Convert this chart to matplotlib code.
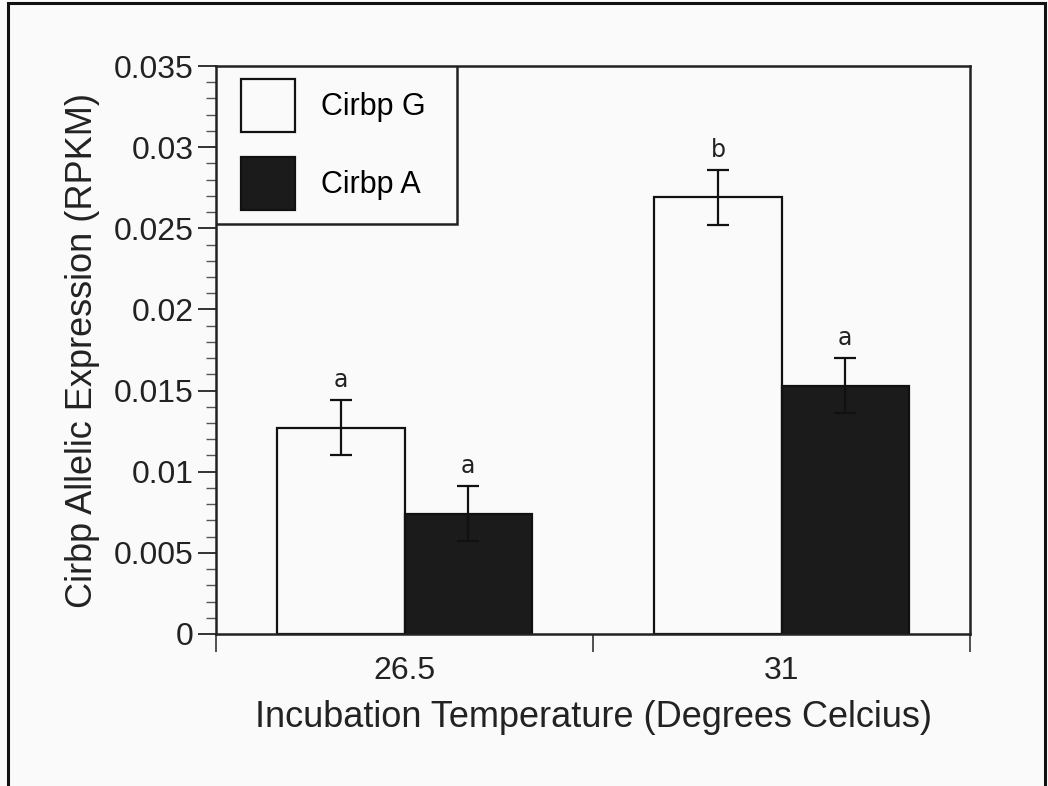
import numpy as np
import matplotlib.pyplot as plt
from matplotlib.patches import Rectangle
from matplotlib.ticker import MultipleLocator

plt.rcParams['font.family'] = ['Liberation Sans', 'DejaVu Sans']

temperatures = ['26.5', '31']
series = ['Cirbp G', 'Cirbp A']
expr_g = [0.0127, 0.0269]
expr_a = [0.0074, 0.0153]
err_g = [0.0017, 0.0017]
err_a = [0.0017, 0.0017]
letters_g = ['a', 'b']
letters_a = ['a', 'a']
ytick_labels = ['0', '0.005', '0.01', '0.015', '0.02', '0.025', '0.03', '0.035']

bg = '#fafafa'
ink = '#222222'
fig = plt.figure(figsize=(10.48, 7.86), dpi=100, facecolor=bg)
ax = fig.add_axes([0.2061, 0.1934, 0.7195, 0.7226], facecolor=bg)

# outer frame around the whole figure
fig.patches.append(Rectangle((8 / 1048, -0.05), 1037 / 1048, 1.05 - 3 / 786,
                             transform=fig.transFigure, fill=False,
                             edgecolor='#111111', linewidth=2.2))

x = np.arange(len(temperatures)) + 0.5
w = 0.337
err_kw = dict(ecolor='#111111', elinewidth=1.6, capsize=8, capthick=1.6)
ax.bar(x - w / 2, expr_g, w, yerr=err_g, color=bg, edgecolor='#111111',
       linewidth=1.6, error_kw=err_kw, label=series[0], zorder=2)
ax.bar(x + w / 2, expr_a, w, yerr=err_a, color='#1b1b1b', edgecolor='#111111',
       linewidth=1.6, error_kw=err_kw, label=series[1], zorder=2)

for xs, vals, errs, lets in [(x - w / 2, expr_g, err_g, letters_g),
                             (x + w / 2, expr_a, err_a, letters_a)]:
    for xi, v, e, t in zip(xs, vals, errs, lets):
        ax.text(xi, v + e + 0.0005, t, ha='center', va='bottom', fontsize=17,
                family='DejaVu Sans', color=ink)

ax.set_xlim(0, 2)
ax.set_ylim(0, 0.035)
ax.set_yticks(np.arange(0, 0.0351, 0.005))
ax.set_yticklabels(ytick_labels)
ax.yaxis.set_minor_locator(MultipleLocator(0.001))

ax.set_xticks([0, 1, 2])
ax.set_xticklabels([])
ax.set_xticks(x, minor=True)
ax.set_xticklabels(temperatures, minor=True)
ax.tick_params(axis='x', which='major', length=13, width=1.2, color='#333333')
ax.tick_params(axis='x', which='minor', length=0, pad=16, labelsize=23, labelcolor=ink)
ax.tick_params(axis='y', which='major', length=13, width=1.4, pad=3, labelsize=23,
               labelcolor=ink, color='#333333')
ax.tick_params(axis='y', which='minor', length=7, width=1.0, color='#555555')

for s in ax.spines.values():
    s.set_linewidth(1.8)
    s.set_color(ink)

ax.set_xlabel('Incubation Temperature (Degrees Celcius)', fontsize=26,
              color=ink, labelpad=10)
ax.set_ylabel('Cirbp Allelic Expression (RPKM)', fontsize=26,
              color=ink, labelpad=10)

# legend box drawn separately so the padding matches the original
ax.add_patch(Rectangle((0, 0.7218), 0.3196, 0.2782, transform=ax.transAxes,
                       facecolor=bg, edgecolor=ink, linewidth=1.8, zorder=4))
leg = ax.legend(loc='upper left', bbox_to_anchor=(0.0332, 0.977), fontsize=22,
                frameon=False, borderaxespad=0, borderpad=0,
                handlelength=1.76, handleheight=2.29, handletextpad=0.85,
                labelspacing=0.82)
leg.set_zorder(5)
for h in leg.legend_handles:
    h.set_linewidth(1.6)

fig.savefig('out.png', dpi=100, facecolor=bg)
